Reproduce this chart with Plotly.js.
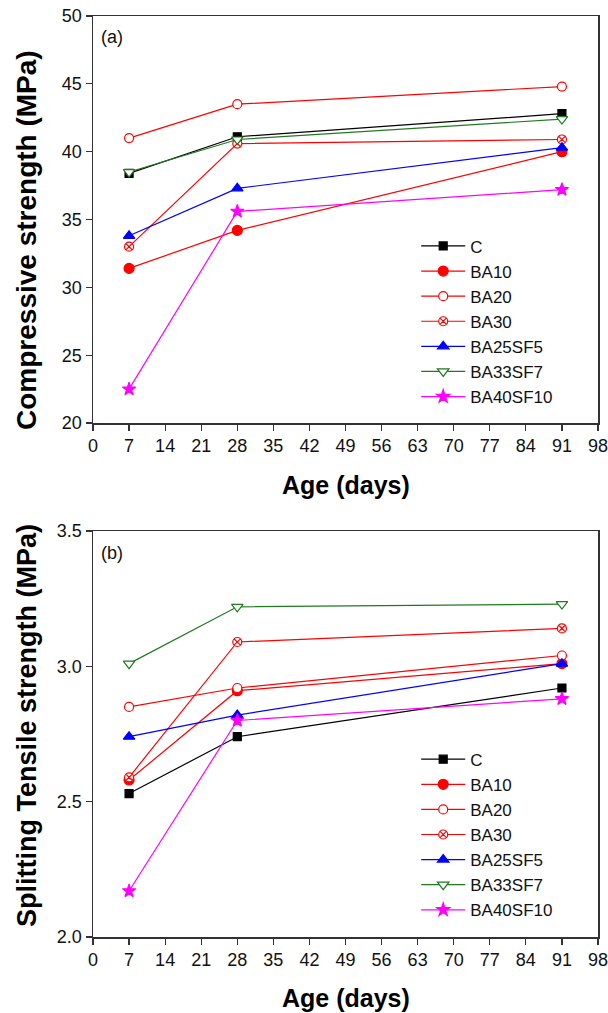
<!DOCTYPE html>
<html>
<head>
<meta charset="utf-8">
<script src="https://cdn.plot.ly/plotly-3.0.1.min.js"></script>
<style>html,body{margin:0;padding:0;background:#fff;}#chart{width:608px;height:1013px;}</style>
</head>
<body>
<div id="chart"></div>
<script>
const days = [7, 28, 91];
const seriesNames = ["C", "BA10", "BA20", "BA30", "BA25SF5", "BA33SF7", "BA40SF10"];
// Compressive strength (MPa)
const compC = [38.4, 41.1, 42.8];
const compBA10 = [31.4, 34.2, 40.0];
const compBA20 = [41.0, 43.5, 44.8];
const compBA30 = [33.0, 40.6, 40.9];
const compBA25SF5 = [33.8, 37.3, 40.3];
const compBA33SF7 = [38.5, 40.9, 42.4];
const compBA40SF10 = [22.5, 35.6, 37.2];
// Splitting tensile strength (MPa)
const tensC = [2.53, 2.74, 2.92];
const tensBA10 = [2.58, 2.91, 3.01];
const tensBA20 = [2.85, 2.92, 3.04];
const tensBA30 = [2.59, 3.09, 3.14];
const tensBA25SF5 = [2.74, 2.82, 3.01];
const tensBA33SF7 = [3.01, 3.22, 3.23];
const tensBA40SF10 = [2.17, 2.80, 2.88];
const xTickVals = [0, 7, 14, 21, 28, 35, 42, 49, 56, 63, 70, 77, 84, 91, 98];

const compData = [compC, compBA10, compBA20, compBA30, compBA25SF5, compBA33SF7, compBA40SF10];
const tensData = [tensC, tensBA10, tensBA20, tensBA30, tensBA25SF5, tensBA33SF7, tensBA40SF10];

const styles = [
  {color: "#000000", symbol: "square", fill: "#000000", size: 8},
  {color: "#ff0000", symbol: "circle", fill: "#ff0000", size: 10},
  {color: "#ff0000", symbol: "circle", fill: "#ffffff", size: 9},
  {color: "#ff0000", symbol: "circle-x", fill: "#ffffff", size: 9},
  {color: "#0000ff", symbol: "triangle-up", fill: "#0000ff", size: 10},
  {color: "#1f7a1f", symbol: "triangle-down", fill: "#ffffff", size: 10},
  {color: "#ff00ff", symbol: "star", fill: "#ff00ff", size: 10}
];

const FONT = "Arial, 'Liberation Sans', sans-serif";
const traces = [];
function addSet(data, xa, ya, leg) {
  data.forEach((vals, i) => {
    const s = styles[i];
    traces.push({
      x: days, y: vals, name: seriesNames[i], type: "scatter", mode: "lines+markers",
      xaxis: xa, yaxis: ya, legend: leg,
      line: {color: s.color, width: 1.2},
      marker: {symbol: s.symbol, size: s.size, color: s.fill, line: {color: s.color, width: 1.2}}
    });
  });
}
addSet(compData, "x", "y", "legend");
addSet(tensData, "x2", "y2", "legend2");

const axisCommon = {
  showgrid: false, zeroline: false, showline: true, mirror: true,
  linecolor: "#333", linewidth: 1.5, ticks: "outside", ticklen: 6, tickwidth: 1.2,
  tickcolor: "#333", tickfont: {family: FONT, size: 18, color: "#111"},
  ticklabeloverflow: "allow"
};

const layout = {
  width: 608, height: 1013,
  margin: {l: 93, r: 10, t: 16, b: 76},
  paper_bgcolor: "#fff", plot_bgcolor: "#fff",
  font: {family: FONT},
  xaxis: Object.assign({}, axisCommon, {domain: [0, 1], range: [0, 98], tickvals: xTickVals, anchor: "y"}),
  yaxis: Object.assign({}, axisCommon, {domain: [0.558, 1], range: [20, 50], dtick: 5, tick0: 20, anchor: "x"}),
  xaxis2: Object.assign({}, axisCommon, {domain: [0, 1], range: [0, 98], tickvals: xTickVals, anchor: "y2"}),
  yaxis2: Object.assign({}, axisCommon, {domain: [0, 0.4408], range: [2.0, 3.5], dtick: 0.5, tick0: 2.0, tickformat: ".1f", anchor: "x2"}),
  showlegend: true,
  legend: {x: 0.64, y: 0.7694, xanchor: "left", yanchor: "top", bgcolor: "rgba(0,0,0,0)", itemwidth: 44,
    font: {family: FONT, size: 17, color: "#111"}, tracegroupgap: 0},
  legend2: {x: 0.64, y: 0.2121, xanchor: "left", yanchor: "top", bgcolor: "rgba(0,0,0,0)", itemwidth: 44,
    font: {family: FONT, size: 17, color: "#111"}, tracegroupgap: 0},
  annotations: [
    {text: "(a)", xref: "paper", yref: "paper", x: 0.012, y: 0.99, xanchor: "left", yanchor: "top", showarrow: false, font: {family: FONT, size: 18, color: "#111"}},
    {text: "(b)", xref: "paper", yref: "paper", x: 0.012, y: 0.4305, xanchor: "left", yanchor: "top", showarrow: false, font: {family: FONT, size: 18, color: "#111"}},
    {text: "<b>Age (days)</b>", xref: "paper", yref: "paper", x: 0.5, y: 0.4908, xanchor: "center", yanchor: "middle", showarrow: false, font: {family: FONT, size: 25, color: "#000"}},
    {text: "<b>Age (days)</b>", xref: "paper", yref: "paper", x: 0.5, y: -0.0662, xanchor: "center", yanchor: "middle", showarrow: false, font: {family: FONT, size: 25, color: "#000"}},
    {text: "<b>Compressive strength (MPa)</b>", xref: "paper", yref: "paper", x: -0.1307, y: 0.7568, xanchor: "center", yanchor: "middle", textangle: -90, showarrow: false, font: {family: FONT, size: 28, color: "#000"}},
    {text: "<b>Splitting Tensile strength (MPa)</b>", xref: "paper", yref: "paper", x: -0.1307, y: 0.2302, xanchor: "center", yanchor: "middle", textangle: -90, showarrow: false, font: {family: FONT, size: 27, color: "#000"}}
  ]
};

Plotly.newPlot("chart", traces, layout, {displayModeBar: false, staticPlot: true});
</script>
</body>
</html>
